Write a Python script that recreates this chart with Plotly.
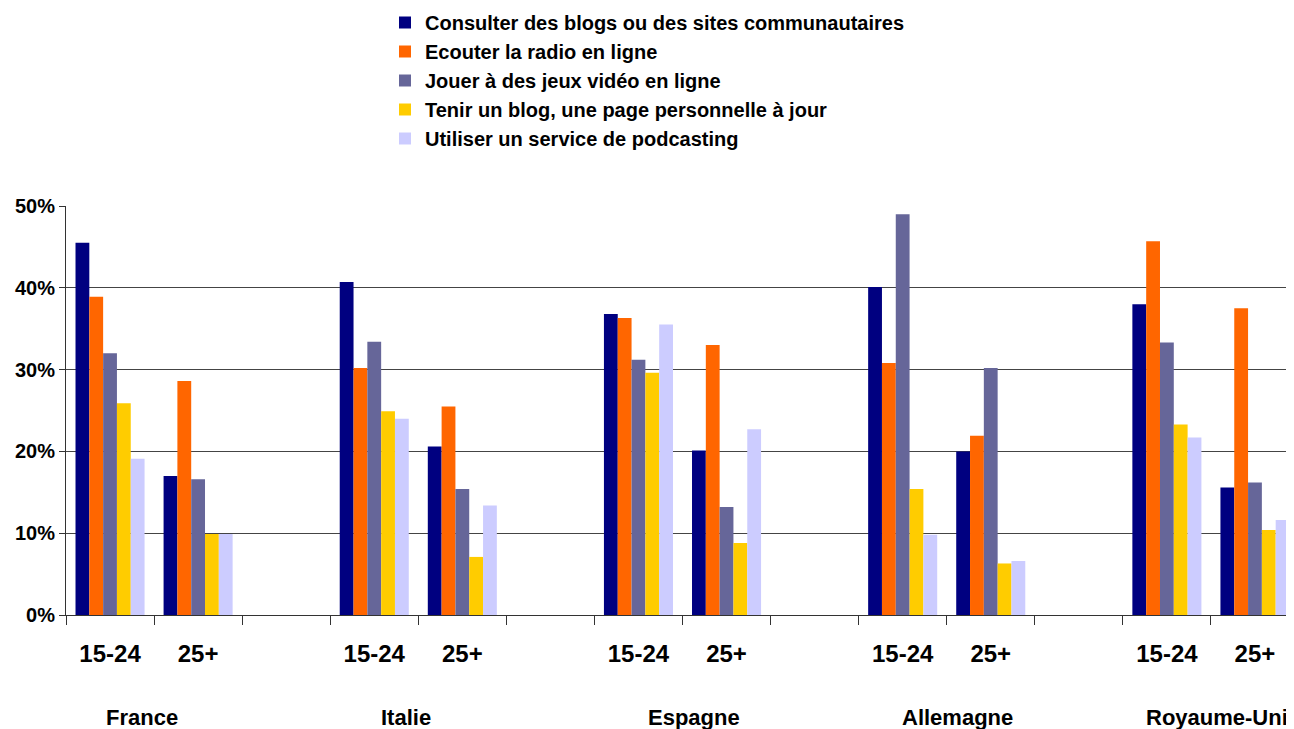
import plotly.graph_objects as go

series_names = [
    "Consulter des blogs ou des sites communautaires",
    "Ecouter la radio en ligne",
    "Jouer à des jeux vidéo en ligne",
    "Tenir un blog, une page personnelle à jour",
    "Utiliser un service de podcasting",
]
colors = ["#000080", "#FF6600", "#666699", "#FFCC00", "#CCCCFF"]

countries = ["France", "Italie", "Espagne", "Allemagne", "Royaume-Uni"]
age_groups = ["15-24", "25+"]

# values per series, order: France 15-24, 25+, Italie 15-24, 25+, Espagne..., Allemagne..., Royaume-Uni...
consulter = [45.5, 17.0, 40.7, 20.6, 36.8, 20.1, 40.1, 20.0, 38.0, 15.6]
radio     = [38.9, 28.6, 30.2, 25.5, 36.3, 33.0, 30.8, 21.9, 45.7, 37.5]
jeux      = [32.0, 16.6, 33.4, 15.4, 31.2, 13.2, 49.0, 30.2, 33.3, 16.2]
blog      = [25.9, 9.9, 24.9, 7.1, 29.6, 8.8, 15.4, 6.3, 23.3, 10.4]
podcast   = [19.1, 9.9, 24.0, 13.4, 35.5, 22.7, 9.8, 6.6, 21.7, 11.6]
series_values = [consulter, radio, jeux, blog, podcast]

# slot positions: two age groups per country, then one empty slot
positions = []
ticktext = []
for ci, c in enumerate(countries):
    for ai, a in enumerate(age_groups):
        positions.append(ci * 3 + ai)
        ticktext.append(a)

FONT = "Arial, Liberation Sans, sans-serif"

W, H = 1286, 721
ML, MR, MT, MB = 58, 0, 198, 114
plot_h = H - MT - MB
plot_w = W - ML - MR

fig = go.Figure()
for name, col, vals in zip(series_names, colors, series_values):
    fig.add_trace(go.Bar(
        x=positions, y=[v / 100 for v in vals], name=name,
        marker=dict(color=col, line=dict(width=0)),
    ))

n_slots = len(countries) * 3 - 1
fig.update_layout(
    width=W, height=H,
    margin=dict(l=ML, r=MR, t=MT, b=MB, autoexpand=False),
    paper_bgcolor="white", plot_bgcolor="white",
    barmode="group", bargap=0.216, bargroupgap=0,
    font=dict(family=FONT, color="black"),
    showlegend=True,
    legend=dict(
        x=(377 - ML) / plot_w, xanchor="left",
        y=(H - MB + 5) / plot_h, yref="paper", yanchor="top",
        font=dict(family=FONT, size=20, color="black", weight="bold"),
        bgcolor="rgba(0,0,0,0)", itemwidth=30, tracegroupgap=0,
    ),
    xaxis=dict(
        range=[-0.5, n_slots - 0.5 - 5 / 88.1],
        tickvals=positions, ticktext=ticktext, ticks="",
        tickfont=dict(family=FONT, size=24, color="black", weight="bold"),
        ticklabelstandoff=17,
        showline=True, linecolor="#333", linewidth=1,
        showgrid=False, zeroline=False,
        minor=dict(ticks="outside", tick0=-0.5, dtick=1, ticklen=9,
                   tickcolor="#333", tickwidth=1, showgrid=False),
    ),
    yaxis=dict(
        range=[0, 0.5], tickvals=[0, 0.1, 0.2, 0.3, 0.4, 0.5],
        tickformat=".0%", ticks="outside", ticklen=6, tickcolor="#333",
        tickfont=dict(family=FONT, size=20, color="black", weight="bold"),
        showline=True, linecolor="#333", linewidth=1,
        showgrid=True, gridcolor="#444", gridwidth=1, zeroline=False,
    ),
)

country_shift = [-12, -12, 11, 11, 6]
label_y = -(709 - (H - MB)) / plot_h
for ci, c in enumerate(countries):
    fig.add_annotation(
        x=ci * 3 + 0.5, xref="x", y=label_y, yref="paper", yanchor="middle",
        text=c, showarrow=False, xshift=country_shift[ci],
        font=dict(family=FONT, size=22, color="black", weight="bold"),
    )

fig.write_html("out.html")
